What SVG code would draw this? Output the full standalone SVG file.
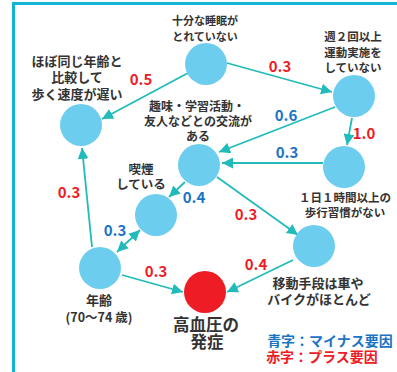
<svg xmlns="http://www.w3.org/2000/svg" width="397" height="372" viewBox="0 0 397 372">
<defs>
<marker id="ah" viewBox="0 0 10 10" refX="10" refY="5" markerWidth="11" markerHeight="11" markerUnits="userSpaceOnUse" orient="auto-start-reverse">
<path d="M0,0 L10,5 L0,10 z" fill="#22bbbb"/>
</marker>
<style>
text{font-family:"Noto Sans CJK JP","Noto Sans",sans-serif;font-weight:bold;text-anchor:middle}
.lb{fill:#333333}
.n{fill:#6dcdee}
.r{fill:#ee1c25}
.b{fill:#1a74c4}
.num{font-size:15px}
.c{stroke:#22bbbb;stroke-width:1.8;fill:none;marker-end:url(#ah)}
</style>
</defs>
<rect width="397" height="372" fill="#ffffff"/>
<path d="M13.5 372 V3.5 H397" fill="none" stroke="#12b4d4" stroke-width="3"/>
<g id="connectors">
<line class="c" x1="188" y1="73" x2="102" y2="119"/>
<line class="c" x1="227" y1="63" x2="332" y2="92"/>
<line class="c" x1="335" y1="107" x2="219" y2="152"/>
<line class="c" x1="352" y1="118" x2="347" y2="145"/>
<line class="c" x1="323" y1="163" x2="222" y2="163"/>
<line class="c" x1="185" y1="182" x2="169" y2="197"/>
<line class="c" x1="217" y1="177" x2="298" y2="235"/>
<line class="c" x1="117" y1="252" x2="140" y2="230" style="marker-start:url(#ah)"/>
<line class="c" x1="92" y1="247" x2="82" y2="148"/>
<line class="c" x1="122" y1="275" x2="183" y2="292"/>
<line class="c" x1="293" y1="260" x2="227" y2="292"/>
</g>
<g id="labels">
<text class="num r" x="141" y="85">0.5</text>
<text class="num r" x="280" y="72">0.3</text>
<text class="num b" x="286" y="121">0.6</text>
<text class="num r" x="364" y="139">1.0</text>
<text class="num b" x="287" y="158">0.3</text>
<text class="num b" x="194" y="203">0.4</text>
<text class="num r" x="246" y="220">0.3</text>
<text class="num r" x="69" y="198">0.3</text>
<text class="num b" x="115" y="236">0.3</text>
<text class="num r" x="156" y="277">0.3</text>
<text class="num r" x="256" y="270">0.4</text>
</g>
<g id="sleep">
<circle class="n" cx="206" cy="64" r="21"/>
<text class="lb" font-size="11"><tspan x="205" y="25">十分な睡眠が</tspan><tspan x="205" y="41">とれていない</tspan></text>
</g>
<g id="exercise">
<circle class="n" cx="354" cy="96" r="21"/>
<text class="lb" font-size="11.5"><tspan x="353" y="41">週２回以上</tspan><tspan x="353" y="57">運動実施を</tspan><tspan x="353" y="72">していない</tspan></text>
</g>
<g id="walkspeed">
<circle class="n" cx="81" cy="125" r="21"/>
<text class="lb" font-size="13"><tspan x="77" y="66">ほぼ同じ年齢と</tspan><tspan x="77" y="82">比較して</tspan><tspan x="77" y="99">歩く速度が遅い</tspan></text>
</g>
<g id="hobby">
<circle class="n" cx="199" cy="165" r="21"/>
<text class="lb" font-size="12"><tspan x="197" y="111">趣味・学習活動・</tspan><tspan x="198" y="126">友人などとの交流が</tspan><tspan x="198" y="141">ある</tspan></text>
</g>
<g id="smoking">
<circle class="n" cx="156" cy="215" r="21"/>
<text class="lb" font-size="12.5"><tspan x="141" y="174">喫煙</tspan><tspan x="141" y="189">している</tspan></text>
</g>
<g id="walkhabit">
<circle class="n" cx="344" cy="167" r="21"/>
<text class="lb" font-size="11.5"><tspan x="345" y="202">１日１時間以上の</tspan><tspan x="345" y="217">歩行習慣がない</tspan></text>
</g>
<g id="age">
<circle class="n" cx="100" cy="268" r="21"/>
<text class="lb" font-size="13"><tspan x="99" y="305">年齢</tspan><tspan x="99" y="322" font-size="12.5">(70〜74 歳)</tspan></text>
</g>
<g id="transport">
<circle class="n" cx="314" cy="246" r="21"/>
<text class="lb" font-size="13"><tspan x="318" y="288">移動手段は車や</tspan><tspan x="319" y="304">バイクがほとんど</tspan></text>
</g>
<g id="hypertension">
<circle class="r" cx="205" cy="292" r="21"/>
<text class="lb" font-size="16.5"><tspan x="206" y="331">高血圧の</tspan><tspan x="207" y="348">発症</tspan></text>
</g>
<g id="legend">
<text font-size="14"><tspan class="b" x="330" y="346">青字：マイナス要因</tspan><tspan class="r" x="322" y="362">赤字：プラス要因</tspan></text>
</g>
</svg>
